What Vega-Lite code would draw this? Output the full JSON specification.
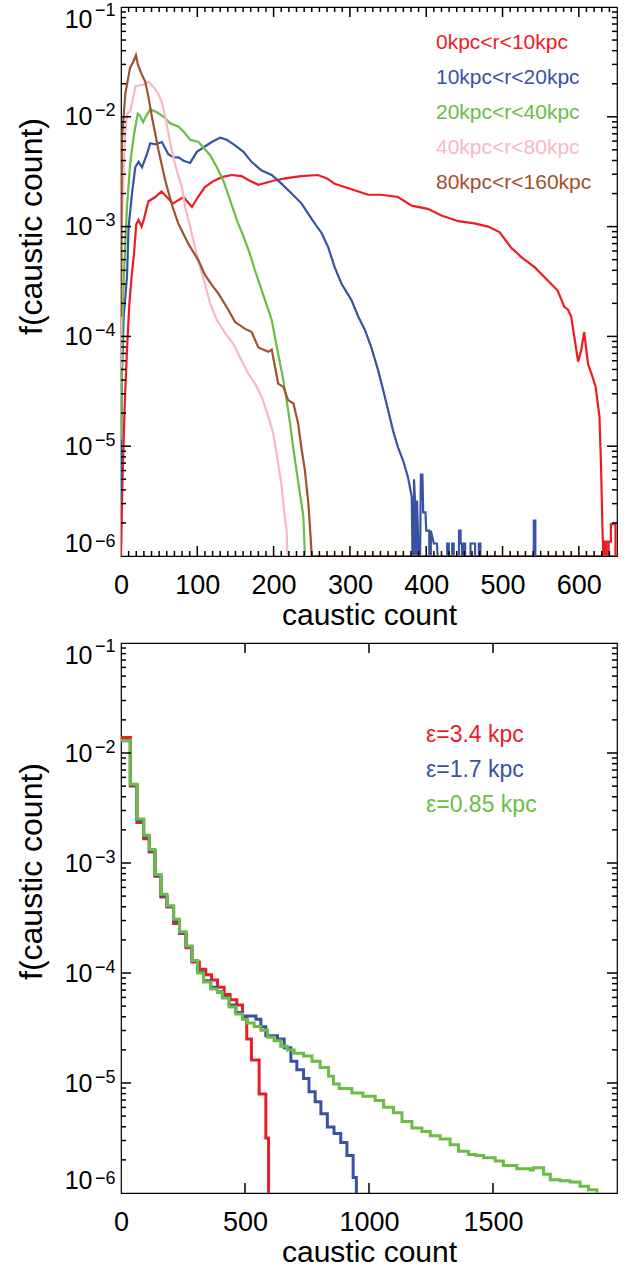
{
  "$schema": "https://vega.github.io/schema/vega-lite/v6.json",
  "padding": {"left": 14, "top": 0, "right": 5, "bottom": 0},
  "spacing": 5,
  "config": {
    "font": "Liberation Sans",
    "view": {"stroke": "black", "strokeWidth": 1.2},
    "axis": {"labelColor": "black", "titleColor": "black", "grid": false, "domain": false, "ticks": false, "tickSize": 0, "titleFontWeight": "normal"},
    "rule": {"color": "#000000", "strokeWidth": 1.5, "opacity": 1},
    "legend": {"labelFont": "Liberation Sans"}
  },
  "datasets": {
    "countTicks": [
      {"v": 10}, {"v": 20}, {"v": 30}, {"v": 40}, {"v": 50}, {"v": 60}, {"v": 70}, {"v": 80}, {"v": 90},
      {"v": 100}, {"v": 110}, {"v": 120}, {"v": 130}, {"v": 140}, {"v": 150}, {"v": 160}, {"v": 170}, {"v": 180}, {"v": 190},
      {"v": 200}, {"v": 210}, {"v": 220}, {"v": 230}, {"v": 240}, {"v": 250}, {"v": 260}, {"v": 270}, {"v": 280}, {"v": 290},
      {"v": 300}, {"v": 310}, {"v": 320}, {"v": 330}, {"v": 340}, {"v": 350}, {"v": 360}, {"v": 370}, {"v": 380}, {"v": 390},
      {"v": 400}, {"v": 410}, {"v": 420}, {"v": 430}, {"v": 440}, {"v": 450}, {"v": 460}, {"v": 470}, {"v": 480}, {"v": 490},
      {"v": 500}, {"v": 510}, {"v": 520}, {"v": 530}, {"v": 540}, {"v": 550}, {"v": 560}, {"v": 570}, {"v": 580}, {"v": 590},
      {"v": 600}, {"v": 610}, {"v": 620}, {"v": 630}, {"v": 640}
    ],
    "wideCountTicks": [{"v": 500}, {"v": 1000}, {"v": 1500}],
    "logTicks": [
      {"v": 2e-6}, {"v": 3e-6}, {"v": 4e-6}, {"v": 5e-6}, {"v": 6e-6}, {"v": 7e-6}, {"v": 8e-6}, {"v": 9e-6},
      {"v": 1e-5}, {"v": 2e-5}, {"v": 3e-5}, {"v": 4e-5}, {"v": 5e-5}, {"v": 6e-5}, {"v": 7e-5}, {"v": 8e-5}, {"v": 9e-5},
      {"v": 1e-4}, {"v": 2e-4}, {"v": 3e-4}, {"v": 4e-4}, {"v": 5e-4}, {"v": 6e-4}, {"v": 7e-4}, {"v": 8e-4}, {"v": 9e-4},
      {"v": 0.001}, {"v": 0.002}, {"v": 0.003}, {"v": 0.004}, {"v": 0.005}, {"v": 0.006}, {"v": 0.007}, {"v": 0.008}, {"v": 0.009},
      {"v": 0.01}, {"v": 0.02}, {"v": 0.03}, {"v": 0.04}, {"v": 0.05}, {"v": 0.06}, {"v": 0.07}, {"v": 0.08}, {"v": 0.09}
    ]
  },
  "resolve": {"scale": {"color": "independent"}},
  "vconcat": [
    {
      "width": 496,
      "height": 549,
      "data": {"values": [
        {"radius": "0kpc<r<10kpc", "count": 0, "frac": 1e-6},
        {"radius": "0kpc<r<10kpc", "count": 2, "frac": 5.01e-6},
        {"radius": "0kpc<r<10kpc", "count": 5, "frac": 2.51e-5},
        {"radius": "0kpc<r<10kpc", "count": 8, "frac": 7.94e-5},
        {"radius": "0kpc<r<10kpc", "count": 11, "frac": 2.0e-4},
        {"radius": "0kpc<r<10kpc", "count": 14, "frac": 3.55e-4},
        {"radius": "0kpc<r<10kpc", "count": 17, "frac": 5.62e-4},
        {"radius": "0kpc<r<10kpc", "count": 20, "frac": 1.05e-3},
        {"radius": "0kpc<r<10kpc", "count": 23, "frac": 1.15e-3},
        {"radius": "0kpc<r<10kpc", "count": 27, "frac": 1.0e-3},
        {"radius": "0kpc<r<10kpc", "count": 30, "frac": 1.17e-3},
        {"radius": "0kpc<r<10kpc", "count": 36, "frac": 1.70e-3},
        {"radius": "0kpc<r<10kpc", "count": 45, "frac": 1.86e-3},
        {"radius": "0kpc<r<10kpc", "count": 53, "frac": 2.09e-3},
        {"radius": "0kpc<r<10kpc", "count": 60, "frac": 1.86e-3},
        {"radius": "0kpc<r<10kpc", "count": 68, "frac": 1.62e-3},
        {"radius": "0kpc<r<10kpc", "count": 75, "frac": 1.74e-3},
        {"radius": "0kpc<r<10kpc", "count": 82, "frac": 1.86e-3},
        {"radius": "0kpc<r<10kpc", "count": 88, "frac": 1.66e-3},
        {"radius": "0kpc<r<10kpc", "count": 93, "frac": 1.51e-3},
        {"radius": "0kpc<r<10kpc", "count": 100, "frac": 1.82e-3},
        {"radius": "0kpc<r<10kpc", "count": 110, "frac": 2.29e-3},
        {"radius": "0kpc<r<10kpc", "count": 120, "frac": 2.57e-3},
        {"radius": "0kpc<r<10kpc", "count": 132, "frac": 2.82e-3},
        {"radius": "0kpc<r<10kpc", "count": 145, "frac": 2.95e-3},
        {"radius": "0kpc<r<10kpc", "count": 158, "frac": 2.88e-3},
        {"radius": "0kpc<r<10kpc", "count": 168, "frac": 2.63e-3},
        {"radius": "0kpc<r<10kpc", "count": 180, "frac": 2.40e-3},
        {"radius": "0kpc<r<10kpc", "count": 190, "frac": 2.51e-3},
        {"radius": "0kpc<r<10kpc", "count": 201, "frac": 2.63e-3},
        {"radius": "0kpc<r<10kpc", "count": 215, "frac": 2.75e-3},
        {"radius": "0kpc<r<10kpc", "count": 236, "frac": 2.88e-3},
        {"radius": "0kpc<r<10kpc", "count": 258, "frac": 2.95e-3},
        {"radius": "0kpc<r<10kpc", "count": 270, "frac": 2.75e-3},
        {"radius": "0kpc<r<10kpc", "count": 280, "frac": 2.45e-3},
        {"radius": "0kpc<r<10kpc", "count": 302, "frac": 2.19e-3},
        {"radius": "0kpc<r<10kpc", "count": 324, "frac": 1.95e-3},
        {"radius": "0kpc<r<10kpc", "count": 341, "frac": 1.95e-3},
        {"radius": "0kpc<r<10kpc", "count": 363, "frac": 1.86e-3},
        {"radius": "0kpc<r<10kpc", "count": 381, "frac": 1.55e-3},
        {"radius": "0kpc<r<10kpc", "count": 402, "frac": 1.45e-3},
        {"radius": "0kpc<r<10kpc", "count": 420, "frac": 1.26e-3},
        {"radius": "0kpc<r<10kpc", "count": 442, "frac": 1.12e-3},
        {"radius": "0kpc<r<10kpc", "count": 463, "frac": 1.07e-3},
        {"radius": "0kpc<r<10kpc", "count": 481, "frac": 1.0e-3},
        {"radius": "0kpc<r<10kpc", "count": 496, "frac": 8.91e-4},
        {"radius": "0kpc<r<10kpc", "count": 511, "frac": 6.46e-4},
        {"radius": "0kpc<r<10kpc", "count": 525, "frac": 5.25e-4},
        {"radius": "0kpc<r<10kpc", "count": 542, "frac": 4.27e-4},
        {"radius": "0kpc<r<10kpc", "count": 559, "frac": 3.24e-4},
        {"radius": "0kpc<r<10kpc", "count": 572, "frac": 2.63e-4},
        {"radius": "0kpc<r<10kpc", "count": 581, "frac": 1.86e-4},
        {"radius": "0kpc<r<10kpc", "count": 586, "frac": 1.74e-4},
        {"radius": "0kpc<r<10kpc", "count": 590, "frac": 1.51e-4},
        {"radius": "0kpc<r<10kpc", "count": 594, "frac": 1.0e-4},
        {"radius": "0kpc<r<10kpc", "count": 599, "frac": 5.89e-5},
        {"radius": "0kpc<r<10kpc", "count": 603, "frac": 7.41e-5},
        {"radius": "0kpc<r<10kpc", "count": 607, "frac": 1.10e-4},
        {"radius": "0kpc<r<10kpc", "count": 612, "frac": 5.62e-5},
        {"radius": "0kpc<r<10kpc", "count": 618, "frac": 4.27e-5},
        {"radius": "0kpc<r<10kpc", "count": 622, "frac": 3.47e-5},
        {"radius": "0kpc<r<10kpc", "count": 627, "frac": 1.86e-5},
        {"radius": "0kpc<r<10kpc", "count": 629, "frac": 6.92e-6},
        {"radius": "0kpc<r<10kpc", "count": 631, "frac": 1.74e-6},
        {"radius": "0kpc<r<10kpc", "count": 632, "frac": 1e-6},
        {"radius": "0kpc<r<10kpc", "count": 634, "frac": 1e-6},
        {"radius": "0kpc<r<10kpc", "count": 634, "frac": 1.35e-6},
        {"radius": "0kpc<r<10kpc", "count": 636, "frac": 1.35e-6},
        {"radius": "0kpc<r<10kpc", "count": 636, "frac": 1e-6},
        {"radius": "0kpc<r<10kpc", "count": 639, "frac": 1e-6},
        {"radius": "0kpc<r<10kpc", "count": 639, "frac": 1.35e-6},
        {"radius": "0kpc<r<10kpc", "count": 642, "frac": 1.35e-6},
        {"radius": "0kpc<r<10kpc", "count": 642, "frac": 1.95e-6},
        {"radius": "0kpc<r<10kpc", "count": 648, "frac": 1.95e-6},
        {"radius": "0kpc<r<10kpc", "count": 648, "frac": 1e-6},
        {"radius": "0kpc<r<10kpc", "count": 650, "frac": 1e-6},

        {"radius": "10kpc<r<20kpc", "count": 0, "frac": 3.31e-6},
        {"radius": "10kpc<r<20kpc", "count": 1, "frac": 3.98e-5},
        {"radius": "10kpc<r<20kpc", "count": 3.5, "frac": 1.51e-4},
        {"radius": "10kpc<r<20kpc", "count": 7.8, "frac": 3.47e-4},
        {"radius": "10kpc<r<20kpc", "count": 10, "frac": 1.0e-3},
        {"radius": "10kpc<r<20kpc", "count": 14.4, "frac": 2.0e-3},
        {"radius": "10kpc<r<20kpc", "count": 18.7, "frac": 3.47e-3},
        {"radius": "10kpc<r<20kpc", "count": 23, "frac": 3.89e-3},
        {"radius": "10kpc<r<20kpc", "count": 27.5, "frac": 3.47e-3},
        {"radius": "10kpc<r<20kpc", "count": 34, "frac": 4.57e-3},
        {"radius": "10kpc<r<20kpc", "count": 38.3, "frac": 5.75e-3},
        {"radius": "10kpc<r<20kpc", "count": 45, "frac": 5.62e-3},
        {"radius": "10kpc<r<20kpc", "count": 53.6, "frac": 5.89e-3},
        {"radius": "10kpc<r<20kpc", "count": 62, "frac": 4.57e-3},
        {"radius": "10kpc<r<20kpc", "count": 69, "frac": 4.27e-3},
        {"radius": "10kpc<r<20kpc", "count": 75.5, "frac": 4.27e-3},
        {"radius": "10kpc<r<20kpc", "count": 82, "frac": 3.98e-3},
        {"radius": "10kpc<r<20kpc", "count": 90.6, "frac": 3.80e-3},
        {"radius": "10kpc<r<20kpc", "count": 99.4, "frac": 4.79e-3},
        {"radius": "10kpc<r<20kpc", "count": 108, "frac": 5.25e-3},
        {"radius": "10kpc<r<20kpc", "count": 119, "frac": 5.89e-3},
        {"radius": "10kpc<r<20kpc", "count": 130, "frac": 6.46e-3},
        {"radius": "10kpc<r<20kpc", "count": 138.6, "frac": 6.17e-3},
        {"radius": "10kpc<r<20kpc", "count": 149.5, "frac": 5.50e-3},
        {"radius": "10kpc<r<20kpc", "count": 160.5, "frac": 4.79e-3},
        {"radius": "10kpc<r<20kpc", "count": 171, "frac": 3.89e-3},
        {"radius": "10kpc<r<20kpc", "count": 184.4, "frac": 3.24e-3},
        {"radius": "10kpc<r<20kpc", "count": 197.5, "frac": 2.95e-3},
        {"radius": "10kpc<r<20kpc", "count": 210.6, "frac": 2.45e-3},
        {"radius": "10kpc<r<20kpc", "count": 223.6, "frac": 2.0e-3},
        {"radius": "10kpc<r<20kpc", "count": 236.7, "frac": 1.62e-3},
        {"radius": "10kpc<r<20kpc", "count": 250, "frac": 1.17e-3},
        {"radius": "10kpc<r<20kpc", "count": 263, "frac": 8.71e-4},
        {"radius": "10kpc<r<20kpc", "count": 271.6, "frac": 6.46e-4},
        {"radius": "10kpc<r<20kpc", "count": 280, "frac": 4.27e-4},
        {"radius": "10kpc<r<20kpc", "count": 289, "frac": 3.02e-4},
        {"radius": "10kpc<r<20kpc", "count": 302, "frac": 2.14e-4},
        {"radius": "10kpc<r<20kpc", "count": 311, "frac": 1.51e-4},
        {"radius": "10kpc<r<20kpc", "count": 319.5, "frac": 1.15e-4},
        {"radius": "10kpc<r<20kpc", "count": 328, "frac": 7.94e-5},
        {"radius": "10kpc<r<20kpc", "count": 337, "frac": 4.90e-5},
        {"radius": "10kpc<r<20kpc", "count": 343.6, "frac": 3.24e-5},
        {"radius": "10kpc<r<20kpc", "count": 350, "frac": 2.14e-5},
        {"radius": "10kpc<r<20kpc", "count": 356.6, "frac": 1.38e-5},
        {"radius": "10kpc<r<20kpc", "count": 363, "frac": 9.77e-6},
        {"radius": "10kpc<r<20kpc", "count": 369.7, "frac": 7.41e-6},
        {"radius": "10kpc<r<20kpc", "count": 376, "frac": 5.25e-6},
        {"radius": "10kpc<r<20kpc", "count": 381, "frac": 3.47e-6},
        {"radius": "10kpc<r<20kpc", "count": 382, "frac": 1e-6},
        {"radius": "10kpc<r<20kpc", "count": 384, "frac": 1e-6},
        {"radius": "10kpc<r<20kpc", "count": 384, "frac": 5.0e-6},
        {"radius": "10kpc<r<20kpc", "count": 386, "frac": 2.5e-6},
        {"radius": "10kpc<r<20kpc", "count": 387, "frac": 1e-6},
        {"radius": "10kpc<r<20kpc", "count": 388, "frac": 3.2e-6},
        {"radius": "10kpc<r<20kpc", "count": 390, "frac": 1e-6},
        {"radius": "10kpc<r<20kpc", "count": 392, "frac": 1e-6},
        {"radius": "10kpc<r<20kpc", "count": 393, "frac": 5.5e-6},
        {"radius": "10kpc<r<20kpc", "count": 395, "frac": 5.5e-6},
        {"radius": "10kpc<r<20kpc", "count": 396, "frac": 2.5e-6},
        {"radius": "10kpc<r<20kpc", "count": 399, "frac": 2.5e-6},
        {"radius": "10kpc<r<20kpc", "count": 400, "frac": 1.7e-6},
        {"radius": "10kpc<r<20kpc", "count": 404, "frac": 1.7e-6},
        {"radius": "10kpc<r<20kpc", "count": 404, "frac": 1e-6},
        {"radius": "10kpc<r<20kpc", "count": 406, "frac": 1e-6},
        {"radius": "10kpc<r<20kpc", "count": 406, "frac": 1.7e-6},
        {"radius": "10kpc<r<20kpc", "count": 410, "frac": 1.3e-6},
        {"radius": "10kpc<r<20kpc", "count": 414, "frac": 1.3e-6},
        {"radius": "10kpc<r<20kpc", "count": 415, "frac": 1e-6},
        {"radius": "10kpc<r<20kpc", "count": 427.5, "frac": 1e-6},
        {"radius": "10kpc<r<20kpc", "count": 427.5, "frac": 1.3e-6},
        {"radius": "10kpc<r<20kpc", "count": 429.5, "frac": 1.3e-6},
        {"radius": "10kpc<r<20kpc", "count": 429.5, "frac": 1e-6},
        {"radius": "10kpc<r<20kpc", "count": 434, "frac": 1e-6},
        {"radius": "10kpc<r<20kpc", "count": 434, "frac": 1.3e-6},
        {"radius": "10kpc<r<20kpc", "count": 436, "frac": 1.3e-6},
        {"radius": "10kpc<r<20kpc", "count": 436, "frac": 1e-6},
        {"radius": "10kpc<r<20kpc", "count": 443, "frac": 1e-6},
        {"radius": "10kpc<r<20kpc", "count": 443, "frac": 1.7e-6},
        {"radius": "10kpc<r<20kpc", "count": 445, "frac": 1.7e-6},
        {"radius": "10kpc<r<20kpc", "count": 445, "frac": 1.3e-6},
        {"radius": "10kpc<r<20kpc", "count": 447, "frac": 1.3e-6},
        {"radius": "10kpc<r<20kpc", "count": 447, "frac": 1e-6},
        {"radius": "10kpc<r<20kpc", "count": 449, "frac": 1e-6},
        {"radius": "10kpc<r<20kpc", "count": 449, "frac": 1.3e-6},
        {"radius": "10kpc<r<20kpc", "count": 451, "frac": 1.3e-6},
        {"radius": "10kpc<r<20kpc", "count": 451, "frac": 1e-6},
        {"radius": "10kpc<r<20kpc", "count": 458, "frac": 1e-6},
        {"radius": "10kpc<r<20kpc", "count": 458, "frac": 1.3e-6},
        {"radius": "10kpc<r<20kpc", "count": 464, "frac": 1.3e-6},
        {"radius": "10kpc<r<20kpc", "count": 464, "frac": 1e-6},
        {"radius": "10kpc<r<20kpc", "count": 469, "frac": 1e-6},
        {"radius": "10kpc<r<20kpc", "count": 469, "frac": 1.3e-6},
        {"radius": "10kpc<r<20kpc", "count": 471, "frac": 1.3e-6},
        {"radius": "10kpc<r<20kpc", "count": 471, "frac": 1e-6},
        {"radius": "10kpc<r<20kpc", "count": 541, "frac": 1e-6},
        {"radius": "10kpc<r<20kpc", "count": 541, "frac": 2.1e-6},
        {"radius": "10kpc<r<20kpc", "count": 543, "frac": 2.1e-6},
        {"radius": "10kpc<r<20kpc", "count": 543, "frac": 1e-6},
        {"radius": "10kpc<r<20kpc", "count": 650, "frac": 1e-6},

        {"radius": "20kpc<r<40kpc", "count": 0, "frac": 1.15e-5},
        {"radius": "20kpc<r<40kpc", "count": 1.5, "frac": 1.0e-4},
        {"radius": "20kpc<r<40kpc", "count": 3.5, "frac": 3.24e-4},
        {"radius": "20kpc<r<40kpc", "count": 7.8, "frac": 1.51e-3},
        {"radius": "20kpc<r<40kpc", "count": 12, "frac": 3.72e-3},
        {"radius": "20kpc<r<40kpc", "count": 16.6, "frac": 6.61e-3},
        {"radius": "20kpc<r<40kpc", "count": 22, "frac": 1.07e-2},
        {"radius": "20kpc<r<40kpc", "count": 25, "frac": 1.02e-2},
        {"radius": "20kpc<r<40kpc", "count": 29, "frac": 8.91e-3},
        {"radius": "20kpc<r<40kpc", "count": 33, "frac": 1.02e-2},
        {"radius": "20kpc<r<40kpc", "count": 38.3, "frac": 1.17e-2},
        {"radius": "20kpc<r<40kpc", "count": 47, "frac": 1.10e-2},
        {"radius": "20kpc<r<40kpc", "count": 55.8, "frac": 1.0e-2},
        {"radius": "20kpc<r<40kpc", "count": 64.5, "frac": 8.71e-3},
        {"radius": "20kpc<r<40kpc", "count": 75.5, "frac": 8.13e-3},
        {"radius": "20kpc<r<40kpc", "count": 84, "frac": 7.08e-3},
        {"radius": "20kpc<r<40kpc", "count": 90.6, "frac": 6.17e-3},
        {"radius": "20kpc<r<40kpc", "count": 101.6, "frac": 5.89e-3},
        {"radius": "20kpc<r<40kpc", "count": 108, "frac": 5.25e-3},
        {"radius": "20kpc<r<40kpc", "count": 116.8, "frac": 4.47e-3},
        {"radius": "20kpc<r<40kpc", "count": 125.6, "frac": 3.47e-3},
        {"radius": "20kpc<r<40kpc", "count": 134, "frac": 2.63e-3},
        {"radius": "20kpc<r<40kpc", "count": 143, "frac": 1.74e-3},
        {"radius": "20kpc<r<40kpc", "count": 151.7, "frac": 1.15e-3},
        {"radius": "20kpc<r<40kpc", "count": 160.5, "frac": 8.13e-4},
        {"radius": "20kpc<r<40kpc", "count": 169, "frac": 5.62e-4},
        {"radius": "20kpc<r<40kpc", "count": 175.6, "frac": 3.98e-4},
        {"radius": "20kpc<r<40kpc", "count": 182, "frac": 2.95e-4},
        {"radius": "20kpc<r<40kpc", "count": 188.7, "frac": 2.14e-4},
        {"radius": "20kpc<r<40kpc", "count": 197.5, "frac": 1.41e-4},
        {"radius": "20kpc<r<40kpc", "count": 206, "frac": 6.92e-5},
        {"radius": "20kpc<r<40kpc", "count": 212.8, "frac": 3.98e-5},
        {"radius": "20kpc<r<40kpc", "count": 217, "frac": 2.63e-5},
        {"radius": "20kpc<r<40kpc", "count": 221.5, "frac": 1.62e-5},
        {"radius": "20kpc<r<40kpc", "count": 226, "frac": 9.33e-6},
        {"radius": "20kpc<r<40kpc", "count": 230, "frac": 6.03e-6},
        {"radius": "20kpc<r<40kpc", "count": 234.5, "frac": 3.72e-6},
        {"radius": "20kpc<r<40kpc", "count": 239, "frac": 2.29e-6},
        {"radius": "20kpc<r<40kpc", "count": 241, "frac": 1e-6},
        {"radius": "20kpc<r<40kpc", "count": 650, "frac": 1e-6},

        {"radius": "40kpc<r<80kpc", "count": 0, "frac": 5.25e-5},
        {"radius": "40kpc<r<80kpc", "count": 1, "frac": 1.0e-3},
        {"radius": "40kpc<r<80kpc", "count": 3, "frac": 2.51e-3},
        {"radius": "40kpc<r<80kpc", "count": 5, "frac": 6.31e-3},
        {"radius": "40kpc<r<80kpc", "count": 8, "frac": 1.07e-2},
        {"radius": "40kpc<r<80kpc", "count": 12, "frac": 1.12e-2},
        {"radius": "40kpc<r<80kpc", "count": 15, "frac": 1.41e-2},
        {"radius": "40kpc<r<80kpc", "count": 19, "frac": 1.91e-2},
        {"radius": "40kpc<r<80kpc", "count": 29.6, "frac": 1.95e-2},
        {"radius": "40kpc<r<80kpc", "count": 36, "frac": 2.09e-2},
        {"radius": "40kpc<r<80kpc", "count": 42.8, "frac": 1.86e-2},
        {"radius": "40kpc<r<80kpc", "count": 49, "frac": 1.62e-2},
        {"radius": "40kpc<r<80kpc", "count": 53.6, "frac": 1.35e-2},
        {"radius": "40kpc<r<80kpc", "count": 58, "frac": 1.0e-2},
        {"radius": "40kpc<r<80kpc", "count": 62, "frac": 7.08e-3},
        {"radius": "40kpc<r<80kpc", "count": 66.7, "frac": 4.90e-3},
        {"radius": "40kpc<r<80kpc", "count": 73, "frac": 3.24e-3},
        {"radius": "40kpc<r<80kpc", "count": 79.8, "frac": 2.29e-3},
        {"radius": "40kpc<r<80kpc", "count": 84, "frac": 1.51e-3},
        {"radius": "40kpc<r<80kpc", "count": 90.6, "frac": 1.0e-3},
        {"radius": "40kpc<r<80kpc", "count": 97, "frac": 6.46e-4},
        {"radius": "40kpc<r<80kpc", "count": 103.7, "frac": 4.27e-4},
        {"radius": "40kpc<r<80kpc", "count": 110, "frac": 3.02e-4},
        {"radius": "40kpc<r<80kpc", "count": 116.8, "frac": 2.0e-4},
        {"radius": "40kpc<r<80kpc", "count": 125.6, "frac": 1.41e-4},
        {"radius": "40kpc<r<80kpc", "count": 136.5, "frac": 1.07e-4},
        {"radius": "40kpc<r<80kpc", "count": 147.4, "frac": 8.51e-5},
        {"radius": "40kpc<r<80kpc", "count": 158, "frac": 6.03e-5},
        {"radius": "40kpc<r<80kpc", "count": 167, "frac": 4.57e-5},
        {"radius": "40kpc<r<80kpc", "count": 175.6, "frac": 3.72e-5},
        {"radius": "40kpc<r<80kpc", "count": 184.4, "frac": 2.82e-5},
        {"radius": "40kpc<r<80kpc", "count": 193, "frac": 1.86e-5},
        {"radius": "40kpc<r<80kpc", "count": 199.7, "frac": 1.29e-5},
        {"radius": "40kpc<r<80kpc", "count": 206, "frac": 6.92e-6},
        {"radius": "40kpc<r<80kpc", "count": 210.6, "frac": 4.27e-6},
        {"radius": "40kpc<r<80kpc", "count": 214, "frac": 2.45e-6},
        {"radius": "40kpc<r<80kpc", "count": 217, "frac": 1.74e-6},
        {"radius": "40kpc<r<80kpc", "count": 218, "frac": 1e-6},
        {"radius": "40kpc<r<80kpc", "count": 650, "frac": 1e-6},

        {"radius": "80kpc<r<160kpc", "count": 0, "frac": 1.51e-4},
        {"radius": "80kpc<r<160kpc", "count": 0.5, "frac": 1.0e-3},
        {"radius": "80kpc<r<160kpc", "count": 1.3, "frac": 6.17e-3},
        {"radius": "80kpc<r<160kpc", "count": 5.6, "frac": 1.62e-2},
        {"radius": "80kpc<r<160kpc", "count": 12, "frac": 2.82e-2},
        {"radius": "80kpc<r<160kpc", "count": 16, "frac": 3.16e-2},
        {"radius": "80kpc<r<160kpc", "count": 19.6, "frac": 3.63e-2},
        {"radius": "80kpc<r<160kpc", "count": 22, "frac": 3.02e-2},
        {"radius": "80kpc<r<160kpc", "count": 27.5, "frac": 2.40e-2},
        {"radius": "80kpc<r<160kpc", "count": 31.8, "frac": 2.09e-2},
        {"radius": "80kpc<r<160kpc", "count": 36, "frac": 1.51e-2},
        {"radius": "80kpc<r<160kpc", "count": 40.5, "frac": 1.0e-2},
        {"radius": "80kpc<r<160kpc", "count": 49, "frac": 5.01e-3},
        {"radius": "80kpc<r<160kpc", "count": 58, "frac": 2.63e-3},
        {"radius": "80kpc<r<160kpc", "count": 66.7, "frac": 1.58e-3},
        {"radius": "80kpc<r<160kpc", "count": 75, "frac": 1.07e-3},
        {"radius": "80kpc<r<160kpc", "count": 88.5, "frac": 6.92e-4},
        {"radius": "80kpc<r<160kpc", "count": 101.6, "frac": 4.90e-4},
        {"radius": "80kpc<r<160kpc", "count": 110, "frac": 3.63e-4},
        {"radius": "80kpc<r<160kpc", "count": 119, "frac": 2.95e-4},
        {"radius": "80kpc<r<160kpc", "count": 127.7, "frac": 2.45e-4},
        {"radius": "80kpc<r<160kpc", "count": 140.8, "frac": 1.74e-4},
        {"radius": "80kpc<r<160kpc", "count": 149.5, "frac": 1.35e-4},
        {"radius": "80kpc<r<160kpc", "count": 162.6, "frac": 1.17e-4},
        {"radius": "80kpc<r<160kpc", "count": 171, "frac": 1.10e-4},
        {"radius": "80kpc<r<160kpc", "count": 180, "frac": 7.94e-5},
        {"radius": "80kpc<r<160kpc", "count": 193, "frac": 7.24e-5},
        {"radius": "80kpc<r<160kpc", "count": 197.5, "frac": 7.59e-5},
        {"radius": "80kpc<r<160kpc", "count": 206, "frac": 3.72e-5},
        {"radius": "80kpc<r<160kpc", "count": 212.8, "frac": 3.47e-5},
        {"radius": "80kpc<r<160kpc", "count": 219, "frac": 2.63e-5},
        {"radius": "80kpc<r<160kpc", "count": 226, "frac": 2.45e-5},
        {"radius": "80kpc<r<160kpc", "count": 232, "frac": 1.62e-5},
        {"radius": "80kpc<r<160kpc", "count": 236.7, "frac": 9.33e-6},
        {"radius": "80kpc<r<160kpc", "count": 241, "frac": 6.03e-6},
        {"radius": "80kpc<r<160kpc", "count": 245.5, "frac": 3.02e-6},
        {"radius": "80kpc<r<160kpc", "count": 248.5, "frac": 1.48e-6},
        {"radius": "80kpc<r<160kpc", "count": 250, "frac": 1e-6},
        {"radius": "80kpc<r<160kpc", "count": 650, "frac": 1e-6}
      ]},
      "layer": [
        {
          "mark": {"type": "line", "strokeWidth": 2.2, "clip": true},
          "encoding": {
            "x": {"field": "count", "type": "quantitative",
              "scale": {"domain": [0, 650], "nice": false, "zero": false},
              "axis": {"orient": "bottom", "values": [0, 100, 200, 300, 400, 500, 600],
                "labelFontSize": 27, "labelPadding": 16, "labelFlush": false, "labelOverlap": false,
                "title": "caustic count", "titleFontSize": 30, "titlePadding": 2}},
            "y": {"field": "frac", "type": "quantitative",
              "scale": {"type": "log", "domain": [1e-6, 0.1], "nice": false},
              "axis": {"orient": "left", "values": [1e-6, 1e-5, 1e-4, 0.001, 0.01, 0.1], "labelExpr": "'10'",
                "labelFontSize": 25, "labelPadding": 29, "labelFlush": true, "labelOverlap": false,
                "title": "f(caustic count)", "titleFontSize": 32, "titlePadding": 16, "titleY": 219}},
            "color": {"field": "radius", "type": "nominal",
              "scale": {"domain": ["0kpc<r<10kpc", "10kpc<r<20kpc", "20kpc<r<40kpc", "40kpc<r<80kpc", "80kpc<r<160kpc"],
                        "range": ["#ED1C24", "#3953A4", "#6ABD45", "#F7B8C6", "#A0522D"]},
              "legend": {"orient": "top-right", "offset": 25, "padding": 0, "title": null,
                "symbolSize": 0, "symbolStrokeWidth": 0, "symbolOpacity": 0, "labelOffset": 0,
                "labelFontSize": 21, "rowPadding": 13,
                "labelColor": {"expr": "datum.value === '0kpc<r<10kpc' ? '#ED1C24' : datum.value === '10kpc<r<20kpc' ? '#3953A4' : datum.value === '20kpc<r<40kpc' ? '#6ABD45' : datum.value === '40kpc<r<80kpc' ? '#F7B8C6' : '#A0522D'"}}},
            "order": {"value": null}
          }
        },
        {
          "mark": {"type": "point", "opacity": 0},
          "encoding": {
            "x": {"field": "count", "type": "quantitative", "axis": null},
            "y": {"field": "frac", "type": "quantitative",
              "axis": {"orient": "left", "title": null,
                "values": [1e-6, 1e-5, 1e-4, 0.001, 0.01, 0.1],
                "labelExpr": "'−' + abs(round(log(datum.value)/LN10))",
                "labelFontSize": 18, "labelPadding": 6, "labelOffset": -6, "labelFlush": true, "labelOverlap": false}}
          }
        },
        {
          "data": {"name": "countTicks"},
          "transform": [{"filter": "datum.v % 100 === 0"}],
          "mark": "rule",
          "encoding": {
            "x": {"field": "v", "type": "quantitative", "axis": null},
            "y": {"datum": 1e-6, "axis": null}, "y2": {"datum": 1.2334e-6}
          }
        },
        {
          "data": {"name": "countTicks"},
          "transform": [{"filter": "datum.v % 100 !== 0"}],
          "mark": "rule",
          "encoding": {
            "x": {"field": "v", "type": "quantitative", "axis": null},
            "y": {"datum": 1e-6, "axis": null}, "y2": {"datum": 1.1106e-6}
          }
        },
        {
          "data": {"name": "countTicks"},
          "transform": [{"filter": "datum.v % 100 === 0"}],
          "mark": "rule",
          "encoding": {
            "x": {"field": "v", "type": "quantitative", "axis": null},
            "y": {"datum": 0.1, "axis": null}, "y2": {"datum": 0.081077}
          }
        },
        {
          "data": {"name": "countTicks"},
          "transform": [{"filter": "datum.v % 100 !== 0"}],
          "mark": "rule",
          "encoding": {
            "x": {"field": "v", "type": "quantitative", "axis": null},
            "y": {"datum": 0.1, "axis": null}, "y2": {"datum": 0.090041}
          }
        },
        {
          "data": {"name": "logTicks"},
          "transform": [{"filter": "abs(log(datum.v)/LN10 - round(log(datum.v)/LN10)) < 0.01"}],
          "mark": "rule",
          "encoding": {
            "y": {"field": "v", "type": "quantitative", "axis": null},
            "x": {"datum": 0, "axis": null}, "x2": {"datum": 13.1}
          }
        },
        {
          "data": {"name": "logTicks"},
          "transform": [{"filter": "abs(log(datum.v)/LN10 - round(log(datum.v)/LN10)) >= 0.01"}],
          "mark": "rule",
          "encoding": {
            "y": {"field": "v", "type": "quantitative", "axis": null},
            "x": {"datum": 0, "axis": null}, "x2": {"datum": 6.55}
          }
        },
        {
          "data": {"name": "logTicks"},
          "transform": [{"filter": "abs(log(datum.v)/LN10 - round(log(datum.v)/LN10)) < 0.01"}],
          "mark": "rule",
          "encoding": {
            "y": {"field": "v", "type": "quantitative", "axis": null},
            "x": {"datum": 650, "axis": null}, "x2": {"datum": 636.9}
          }
        },
        {
          "data": {"name": "logTicks"},
          "transform": [{"filter": "abs(log(datum.v)/LN10 - round(log(datum.v)/LN10)) >= 0.01"}],
          "mark": "rule",
          "encoding": {
            "y": {"field": "v", "type": "quantitative", "axis": null},
            "x": {"datum": 650, "axis": null}, "x2": {"datum": 643.45}
          }
        }
      ],
      "resolve": {"axis": {"x": "independent", "y": "independent"}}
    },
    {
      "width": 496,
      "height": 550,
      "data": {"values": [
        {"soft": "ε=3.4 kpc", "count": 0, "frac": 1.38e-2},
        {"soft": "ε=3.4 kpc", "count": 37.6, "frac": 5.01e-3},
        {"soft": "ε=3.4 kpc", "count": 64.4, "frac": 2.34e-3},
        {"soft": "ε=3.4 kpc", "count": 91.3, "frac": 1.66e-3},
        {"soft": "ε=3.4 kpc", "count": 114, "frac": 1.26e-3},
        {"soft": "ε=3.4 kpc", "count": 137, "frac": 7.59e-4},
        {"soft": "ε=3.4 kpc", "count": 161, "frac": 4.90e-4},
        {"soft": "ε=3.4 kpc", "count": 185, "frac": 3.98e-4},
        {"soft": "ε=3.4 kpc", "count": 212, "frac": 2.82e-4},
        {"soft": "ε=3.4 kpc", "count": 236, "frac": 2.29e-4},
        {"soft": "ε=3.4 kpc", "count": 262, "frac": 1.70e-4},
        {"soft": "ε=3.4 kpc", "count": 286, "frac": 1.26e-4},
        {"soft": "ε=3.4 kpc", "count": 316, "frac": 1.08e-4},
        {"soft": "ε=3.4 kpc", "count": 342, "frac": 9.64e-5},
        {"soft": "ε=3.4 kpc", "count": 365, "frac": 8.63e-5},
        {"soft": "ε=3.4 kpc", "count": 389, "frac": 7.41e-5},
        {"soft": "ε=3.4 kpc", "count": 416, "frac": 6.38e-5},
        {"soft": "ε=3.4 kpc", "count": 440, "frac": 5.71e-5},
        {"soft": "ε=3.4 kpc", "count": 467, "frac": 5.13e-5},
        {"soft": "ε=3.4 kpc", "count": 490, "frac": 3.98e-5},
        {"soft": "ε=3.4 kpc", "count": 507, "frac": 2.51e-5},
        {"soft": "ε=3.4 kpc", "count": 526, "frac": 1.62e-5},
        {"soft": "ε=3.4 kpc", "count": 557, "frac": 7.94e-6},
        {"soft": "ε=3.4 kpc", "count": 584, "frac": 3.16e-6},
        {"soft": "ε=3.4 kpc", "count": 595, "frac": 1e-6},

        {"soft": "ε=1.7 kpc", "count": 0, "frac": 1.29e-2},
        {"soft": "ε=1.7 kpc", "count": 37.6, "frac": 5.13e-3},
        {"soft": "ε=1.7 kpc", "count": 64.4, "frac": 2.43e-3},
        {"soft": "ε=1.7 kpc", "count": 91.3, "frac": 1.74e-3},
        {"soft": "ε=1.7 kpc", "count": 114, "frac": 1.29e-3},
        {"soft": "ε=1.7 kpc", "count": 137, "frac": 7.67e-4},
        {"soft": "ε=1.7 kpc", "count": 161, "frac": 5.01e-4},
        {"soft": "ε=1.7 kpc", "count": 185, "frac": 4.03e-4},
        {"soft": "ε=1.7 kpc", "count": 212, "frac": 2.95e-4},
        {"soft": "ε=1.7 kpc", "count": 236, "frac": 2.32e-4},
        {"soft": "ε=1.7 kpc", "count": 262, "frac": 1.74e-4},
        {"soft": "ε=1.7 kpc", "count": 286, "frac": 1.29e-4},
        {"soft": "ε=1.7 kpc", "count": 309, "frac": 1.02e-4},
        {"soft": "ε=1.7 kpc", "count": 333, "frac": 8.51e-5},
        {"soft": "ε=1.7 kpc", "count": 362, "frac": 7.41e-5},
        {"soft": "ε=1.7 kpc", "count": 389, "frac": 6.76e-5},
        {"soft": "ε=1.7 kpc", "count": 409, "frac": 6.03e-5},
        {"soft": "ε=1.7 kpc", "count": 436, "frac": 5.13e-5},
        {"soft": "ε=1.7 kpc", "count": 463, "frac": 4.37e-5},
        {"soft": "ε=1.7 kpc", "count": 490, "frac": 4.07e-5},
        {"soft": "ε=1.7 kpc", "count": 544, "frac": 3.80e-5},
        {"soft": "ε=1.7 kpc", "count": 564, "frac": 3.24e-5},
        {"soft": "ε=1.7 kpc", "count": 584, "frac": 2.69e-5},
        {"soft": "ε=1.7 kpc", "count": 631, "frac": 2.51e-5},
        {"soft": "ε=1.7 kpc", "count": 658, "frac": 2.09e-5},
        {"soft": "ε=1.7 kpc", "count": 685, "frac": 1.58e-5},
        {"soft": "ε=1.7 kpc", "count": 709, "frac": 1.32e-5},
        {"soft": "ε=1.7 kpc", "count": 736, "frac": 1.10e-5},
        {"soft": "ε=1.7 kpc", "count": 758, "frac": 8.32e-6},
        {"soft": "ε=1.7 kpc", "count": 783, "frac": 6.76e-6},
        {"soft": "ε=1.7 kpc", "count": 806, "frac": 5.25e-6},
        {"soft": "ε=1.7 kpc", "count": 832, "frac": 3.98e-6},
        {"soft": "ε=1.7 kpc", "count": 859, "frac": 3.47e-6},
        {"soft": "ε=1.7 kpc", "count": 886, "frac": 2.88e-6},
        {"soft": "ε=1.7 kpc", "count": 911, "frac": 2.19e-6},
        {"soft": "ε=1.7 kpc", "count": 936, "frac": 1.38e-6},
        {"soft": "ε=1.7 kpc", "count": 949, "frac": 1e-6},

        {"soft": "ε=0.85 kpc", "count": 0, "frac": 1.30e-2},
        {"soft": "ε=0.85 kpc", "count": 37.6, "frac": 5.19e-3},
        {"soft": "ε=0.85 kpc", "count": 64.4, "frac": 2.51e-3},
        {"soft": "ε=0.85 kpc", "count": 91.3, "frac": 1.79e-3},
        {"soft": "ε=0.85 kpc", "count": 114, "frac": 1.33e-3},
        {"soft": "ε=0.85 kpc", "count": 137, "frac": 7.85e-4},
        {"soft": "ε=0.85 kpc", "count": 161, "frac": 5.20e-4},
        {"soft": "ε=0.85 kpc", "count": 185, "frac": 4.09e-4},
        {"soft": "ε=0.85 kpc", "count": 212, "frac": 3.08e-4},
        {"soft": "ε=0.85 kpc", "count": 236, "frac": 2.37e-4},
        {"soft": "ε=0.85 kpc", "count": 262, "frac": 1.76e-4},
        {"soft": "ε=0.85 kpc", "count": 286, "frac": 1.30e-4},
        {"soft": "ε=0.85 kpc", "count": 309, "frac": 1.0e-4},
        {"soft": "ε=0.85 kpc", "count": 333, "frac": 8.30e-5},
        {"soft": "ε=0.85 kpc", "count": 362, "frac": 7.14e-5},
        {"soft": "ε=0.85 kpc", "count": 389, "frac": 6.64e-5},
        {"soft": "ε=0.85 kpc", "count": 409, "frac": 5.93e-5},
        {"soft": "ε=0.85 kpc", "count": 436, "frac": 4.92e-5},
        {"soft": "ε=0.85 kpc", "count": 463, "frac": 4.24e-5},
        {"soft": "ε=0.85 kpc", "count": 490, "frac": 3.78e-5},
        {"soft": "ε=0.85 kpc", "count": 510, "frac": 3.51e-5},
        {"soft": "ε=0.85 kpc", "count": 537, "frac": 3.26e-5},
        {"soft": "ε=0.85 kpc", "count": 564, "frac": 3.02e-5},
        {"soft": "ε=0.85 kpc", "count": 591, "frac": 2.60e-5},
        {"soft": "ε=0.85 kpc", "count": 617, "frac": 2.42e-5},
        {"soft": "ε=0.85 kpc", "count": 644, "frac": 2.16e-5},
        {"soft": "ε=0.85 kpc", "count": 671, "frac": 2.0e-5},
        {"soft": "ε=0.85 kpc", "count": 698, "frac": 1.86e-5},
        {"soft": "ε=0.85 kpc", "count": 736, "frac": 1.76e-5},
        {"soft": "ε=0.85 kpc", "count": 770, "frac": 1.58e-5},
        {"soft": "ε=0.85 kpc", "count": 803, "frac": 1.38e-5},
        {"soft": "ε=0.85 kpc", "count": 837, "frac": 1.15e-5},
        {"soft": "ε=0.85 kpc", "count": 857, "frac": 9.77e-6},
        {"soft": "ε=0.85 kpc", "count": 880, "frac": 8.91e-6},
        {"soft": "ε=0.85 kpc", "count": 931, "frac": 8.13e-6},
        {"soft": "ε=0.85 kpc", "count": 975, "frac": 7.59e-6},
        {"soft": "ε=0.85 kpc", "count": 1025, "frac": 6.92e-6},
        {"soft": "ε=0.85 kpc", "count": 1059, "frac": 6.03e-6},
        {"soft": "ε=0.85 kpc", "count": 1099, "frac": 5.37e-6},
        {"soft": "ε=0.85 kpc", "count": 1133, "frac": 4.47e-6},
        {"soft": "ε=0.85 kpc", "count": 1173, "frac": 3.89e-6},
        {"soft": "ε=0.85 kpc", "count": 1213, "frac": 3.63e-6},
        {"soft": "ε=0.85 kpc", "count": 1247, "frac": 3.31e-6},
        {"soft": "ε=0.85 kpc", "count": 1287, "frac": 3.09e-6},
        {"soft": "ε=0.85 kpc", "count": 1327, "frac": 2.75e-6},
        {"soft": "ε=0.85 kpc", "count": 1361, "frac": 2.40e-6},
        {"soft": "ε=0.85 kpc", "count": 1401, "frac": 2.24e-6},
        {"soft": "ε=0.85 kpc", "count": 1430, "frac": 2.19e-6},
        {"soft": "ε=0.85 kpc", "count": 1462, "frac": 2.09e-6},
        {"soft": "ε=0.85 kpc", "count": 1509, "frac": 1.95e-6},
        {"soft": "ε=0.85 kpc", "count": 1542, "frac": 1.78e-6},
        {"soft": "ε=0.85 kpc", "count": 1596, "frac": 1.66e-6},
        {"soft": "ε=0.85 kpc", "count": 1650, "frac": 1.62e-6},
        {"soft": "ε=0.85 kpc", "count": 1663, "frac": 1.70e-6},
        {"soft": "ε=0.85 kpc", "count": 1704, "frac": 1.48e-6},
        {"soft": "ε=0.85 kpc", "count": 1731, "frac": 1.32e-6},
        {"soft": "ε=0.85 kpc", "count": 1771, "frac": 1.29e-6},
        {"soft": "ε=0.85 kpc", "count": 1811, "frac": 1.26e-6},
        {"soft": "ε=0.85 kpc", "count": 1851, "frac": 1.15e-6},
        {"soft": "ε=0.85 kpc", "count": 1885, "frac": 1.07e-6},
        {"soft": "ε=0.85 kpc", "count": 1919, "frac": 1e-6}
      ]},
      "layer": [
        {
          "mark": {"type": "line", "strokeWidth": 3, "interpolate": "step-after", "clip": true},
          "encoding": {
            "x": {"field": "count", "type": "quantitative",
              "scale": {"domain": [0, 2000], "nice": false, "zero": false},
              "axis": {"orient": "bottom", "values": [0, 500, 1000, 1500], "format": "d",
                "labelFontSize": 27, "labelPadding": 16, "labelFlush": false, "labelOverlap": false,
                "title": "caustic count", "titleFontSize": 30, "titlePadding": 2}},
            "y": {"field": "frac", "type": "quantitative",
              "scale": {"type": "log", "domain": [1e-6, 0.1], "nice": false},
              "axis": {"orient": "left", "values": [1e-6, 1e-5, 1e-4, 0.001, 0.01, 0.1], "labelExpr": "'10'",
                "labelFontSize": 25, "labelPadding": 29, "labelFlush": true, "labelOverlap": false,
                "title": "f(caustic count)", "titleFontSize": 32, "titlePadding": 16, "titleY": 228}},
            "color": {"field": "soft", "type": "nominal",
              "scale": {"domain": ["ε=3.4 kpc", "ε=1.7 kpc", "ε=0.85 kpc"], "range": ["#ED1C24", "#3953A4", "#6ABD45"]},
              "legend": {"orient": "top-right", "offset": 80, "padding": 0, "title": null,
                "symbolSize": 0, "symbolStrokeWidth": 0, "symbolOpacity": 0, "labelOffset": 0,
                "labelFontSize": 23, "rowPadding": 11,
                "labelColor": {"expr": "datum.value === 'ε=3.4 kpc' ? '#ED1C24' : datum.value === 'ε=1.7 kpc' ? '#3953A4' : '#6ABD45'"}}},
            "order": {"value": null}
          }
        },
        {
          "mark": {"type": "point", "opacity": 0},
          "encoding": {
            "x": {"field": "count", "type": "quantitative", "axis": null},
            "y": {"field": "frac", "type": "quantitative",
              "axis": {"orient": "left", "title": null,
                "values": [1e-6, 1e-5, 1e-4, 0.001, 0.01, 0.1],
                "labelExpr": "'−' + abs(round(log(datum.value)/LN10))",
                "labelFontSize": 18, "labelPadding": 6, "labelOffset": -6, "labelFlush": true, "labelOverlap": false}}
          }
        },
        {
          "data": {"name": "wideCountTicks"},
          "mark": "rule",
          "encoding": {
            "x": {"field": "v", "type": "quantitative", "axis": null},
            "y": {"datum": 1e-6, "axis": null}, "y2": {"datum": 1.2328e-6}
          }
        },
        {
          "data": {"name": "wideCountTicks"},
          "mark": "rule",
          "encoding": {
            "x": {"field": "v", "type": "quantitative", "axis": null},
            "y": {"datum": 0.1, "axis": null}, "y2": {"datum": 0.08112}
          }
        },
        {
          "data": {"name": "logTicks"},
          "transform": [{"filter": "abs(log(datum.v)/LN10 - round(log(datum.v)/LN10)) < 0.01"}],
          "mark": "rule",
          "encoding": {
            "y": {"field": "v", "type": "quantitative", "axis": null},
            "x": {"datum": 0, "axis": null}, "x2": {"datum": 40.3}
          }
        },
        {
          "data": {"name": "logTicks"},
          "transform": [{"filter": "abs(log(datum.v)/LN10 - round(log(datum.v)/LN10)) >= 0.01"}],
          "mark": "rule",
          "encoding": {
            "y": {"field": "v", "type": "quantitative", "axis": null},
            "x": {"datum": 0, "axis": null}, "x2": {"datum": 20.2}
          }
        },
        {
          "data": {"name": "logTicks"},
          "transform": [{"filter": "abs(log(datum.v)/LN10 - round(log(datum.v)/LN10)) < 0.01"}],
          "mark": "rule",
          "encoding": {
            "y": {"field": "v", "type": "quantitative", "axis": null},
            "x": {"datum": 2000, "axis": null}, "x2": {"datum": 1959.7}
          }
        },
        {
          "data": {"name": "logTicks"},
          "transform": [{"filter": "abs(log(datum.v)/LN10 - round(log(datum.v)/LN10)) >= 0.01"}],
          "mark": "rule",
          "encoding": {
            "y": {"field": "v", "type": "quantitative", "axis": null},
            "x": {"datum": 2000, "axis": null}, "x2": {"datum": 1979.8}
          }
        }
      ],
      "resolve": {"axis": {"x": "independent", "y": "independent"}}
    }
  ]
}
